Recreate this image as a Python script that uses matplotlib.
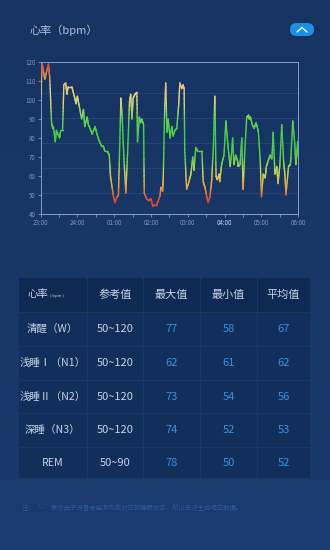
import numpy as np
import matplotlib
matplotlib.use("Agg")
import matplotlib.pyplot as plt
from matplotlib.collections import LineCollection
from matplotlib.colors import LinearSegmentedColormap
from matplotlib.patches import FancyBboxPatch, Rectangle

plt.rcParams['font.family'] = ['Noto Sans CJK SC', 'DejaVu Sans']

# heart rate trace, minutes after 23:00
minutes = [0, 3, 7, 10, 13, 15, 18, 20, 21, 24, 26, 31, 33, 36, 38, 41, 43, 45, 51, 55,
           58, 60, 63, 67, 70, 72, 76, 78, 82, 84, 89, 92, 95, 99, 102, 105, 109, 112, 114, 118,
           121, 125, 127, 131, 133, 136, 139, 142, 145, 147, 149, 151, 154, 157, 158, 161, 163, 165, 168, 169,
           173, 177, 180, 183, 185, 189, 192, 195, 196, 199, 200, 202, 204, 206, 208, 211, 214, 216, 219, 222,
           225, 227, 230, 232, 234, 235, 238, 241, 245, 248, 250, 253, 256, 260, 263, 265, 268, 271, 273, 276,
           279, 282, 284, 286, 288, 291, 292, 295, 299, 302, 304, 306, 309, 312, 313, 315, 318, 321, 322, 325,
           328, 330, 333, 336, 339, 340, 342, 345, 348, 351, 353, 355, 358, 360, 363, 366, 368, 371, 374, 377,
           379, 382, 385, 387, 390, 393, 396, 398, 400, 404, 407, 408, 411, 414, 416, 419, 420]
bpm = [100, 119, 111, 115, 119, 112, 88, 85, 86, 78, 84, 80, 84, 84, 108, 109, 103, 107, 107, 102,
       98, 102, 97, 90, 95, 86, 91, 87, 84, 82, 86, 82, 79, 76, 76, 73, 73, 71, 60, 51,
       46, 49, 50, 101, 91, 69, 51, 73, 99, 103, 90, 101, 103, 104, 78, 91, 88, 90, 87, 51,
       48, 47, 48, 44, 45, 45, 47, 50, 54, 52, 59, 91, 109, 83, 90, 80, 86, 81, 84, 85,
       97, 109, 106, 108, 106, 74, 53, 56, 61, 70, 63, 75, 73, 73, 73, 57, 54, 49, 46, 49,
       58, 78, 102, 60, 58, 61, 57, 66, 71, 89, 81, 74, 65, 74, 80, 66, 71, 68, 65, 66,
       80, 53, 74, 91, 92, 90, 91, 87, 85, 88, 86, 83, 68, 49, 61, 59, 65, 68, 71, 69,
       83, 61, 65, 56, 66, 87, 68, 61, 50, 65, 66, 70, 89, 78, 66, 78, 70]

hour_labels = ['23:00', '24:00', '01:00', '02:00', '03:00', '04:00', '05:00', '06:00']
grid_levels = [103.5, 90.4, 77.3, 64.2, 51.2]

# table
col_headers = ['参考值', '最大值', '最小值', '平均值']
stages = ['清醒（W）', '浅睡Ⅰ（N1）', '浅睡Ⅱ（N2）', '深睡（N3）', 'REM']
ref_ranges = ['50~120', '50~120', '50~120', '50~120', '50~90']
max_vals = [77, 62, 73, 74, 78]
min_vals = [58, 61, 54, 52, 50]
avg_vals = [67, 62, 56, 53, 52]

W, H = 330, 550
fig = plt.figure(figsize=(3.3, 5.5), dpi=100)

# background with a slight vertical gradient
bg = fig.add_axes([0, 0, 1, 1])
grad = np.linspace(0, 1, 256).reshape(-1, 1)
bg_cmap = LinearSegmentedColormap.from_list('bg', ['#163361', '#1a3b6f'])
bg.imshow(grad, aspect='auto', cmap=bg_cmap, extent=[0, W, H, 0])
bg.set_xlim(0, W)
bg.set_ylim(H, 0)
bg.axis('off')

# title and toggle button
bg.text(30, 30, '心率（bpm）', color='#b4c2d8', fontsize=8, va='center', ha='left')
btn = FancyBboxPatch((290, 23), 24, 13, boxstyle='round,pad=0,rounding_size=6.5',
                     fc='#1f8ee6', ec='none')
bg.add_patch(btn)
bg.plot([297, 302, 307], [32, 27.5, 32], color='white', lw=0.9, solid_capstyle='round')

# table cells
col_edges = [18, 87, 143, 200, 257, 310]
row_edges = [277, 312, 346, 380, 413, 447, 478]
for r in range(len(row_edges) - 1):
    for c in range(len(col_edges) - 1):
        fc = '#0f2a52' if r == 0 else '#122e5a'
        bg.add_patch(Rectangle((col_edges[c] + 0.5, row_edges[r] + 0.5),
                               col_edges[c + 1] - col_edges[c] - 1,
                               row_edges[r + 1] - row_edges[r] - 1, fc=fc, ec='none'))

col_cx = [(col_edges[i] + col_edges[i + 1]) / 2 for i in range(5)]
row_cy = [(row_edges[i] + row_edges[i + 1]) / 2 for i in range(6)]
txt = '#c9d4e6'
blue = '#3592e4'
bg.text(col_cx[0] - 4, row_cy[0], '心率', color=txt, fontsize=7.5, ha='right', va='center')
bg.text(col_cx[0] - 3, row_cy[0] + 1, '( bpm )', color=txt, fontsize=3, ha='left', va='center')
for i, h in enumerate(col_headers):
    bg.text(col_cx[i + 1], row_cy[0], h, color=txt, fontsize=8, ha='center', va='center')
for r in range(len(stages)):
    y = row_cy[r + 1]
    bg.text(col_cx[0], y, stages[r], color=txt, fontsize=7.6, ha='center', va='center')
    bg.text(col_cx[1], y, ref_ranges[r], color=txt, fontsize=8, ha='center', va='center')
    bg.text(col_cx[2], y, str(max_vals[r]), color=blue, fontsize=8, ha='center', va='center')
    bg.text(col_cx[3], y, str(min_vals[r]), color=blue, fontsize=8, ha='center', va='center')
    bg.text(col_cx[4], y, str(avg_vals[r]), color=blue, fontsize=8, ha='center', va='center')

bg.text(22, 508, '注：‘--’表示由于设备未监测到您对应的睡眠状态，所以无法生成相应数据。',
        color='#2e5c9c', fontsize=4.6, ha='left', va='center')

# heart rate chart
x0, x1, y0, y1 = 40.5, 298.3, 62, 214
ax = fig.add_axes([x0 / W, 1 - y1 / H, (x1 - x0) / W, (y1 - y0) / H])
ax.set_facecolor('none')
ax.set_xlim(0, 420)
ax.set_ylim(40, 120)
for g in grid_levels:
    ax.axhline(g, color='#2a4a7c', lw=0.5, zorder=1)

hr_cmap = LinearSegmentedColormap.from_list('hr', [
    (0.0, '#e03a2c'), (0.1, '#e0502e'), (0.18, '#e6a848'), (0.27, '#cfd652'),
    (0.37, '#5cd24a'), (0.5, '#42cf42'), (0.62, '#62d34c'), (0.73, '#d6d872'),
    (0.84, '#ebc684'), (0.92, '#e68456'), (1.0, '#df3c2e')])

# split each straight segment into short pieces so the colour can fade along it
seg_list = []
seg_val = []
for i in range(len(minutes) - 1):
    t = np.linspace(0, 1, 13)
    xs = minutes[i] + (minutes[i + 1] - minutes[i]) * t
    ys = bpm[i] + (bpm[i + 1] - bpm[i]) * t
    for k in range(len(t) - 1):
        seg_list.append([(xs[k], ys[k]), (xs[k + 1], ys[k + 1])])
        seg_val.append((ys[k] + ys[k + 1]) / 2)
lc = LineCollection(seg_list, cmap=hr_cmap, norm=plt.Normalize(40, 120), lw=1.0,
                    capstyle='round', joinstyle='round', zorder=3)
lc.set_array(np.array(seg_val))
ax.add_collection(lc)

ax.set_xticks(np.arange(0, 421, 60))
ax.set_xticklabels(hour_labels)
ax.set_xticks(np.arange(30, 420, 60), minor=True)
ax.set_yticks(np.arange(40, 121, 10))
ax.tick_params(axis='both', colors='#8ea8d0', labelcolor='#8296b8', labelsize=4.5,
               length=2, width=0.5, pad=1.5)
ax.tick_params(axis='x', which='minor', colors='#8ea8d0', length=2, width=0.5)
ax.get_xticklabels()[5].set_color('#c8d4e8')
for s in ax.spines.values():
    s.set_color('#98b0d6')
    s.set_linewidth(0.6)

fig.savefig('out.png', dpi=100)
